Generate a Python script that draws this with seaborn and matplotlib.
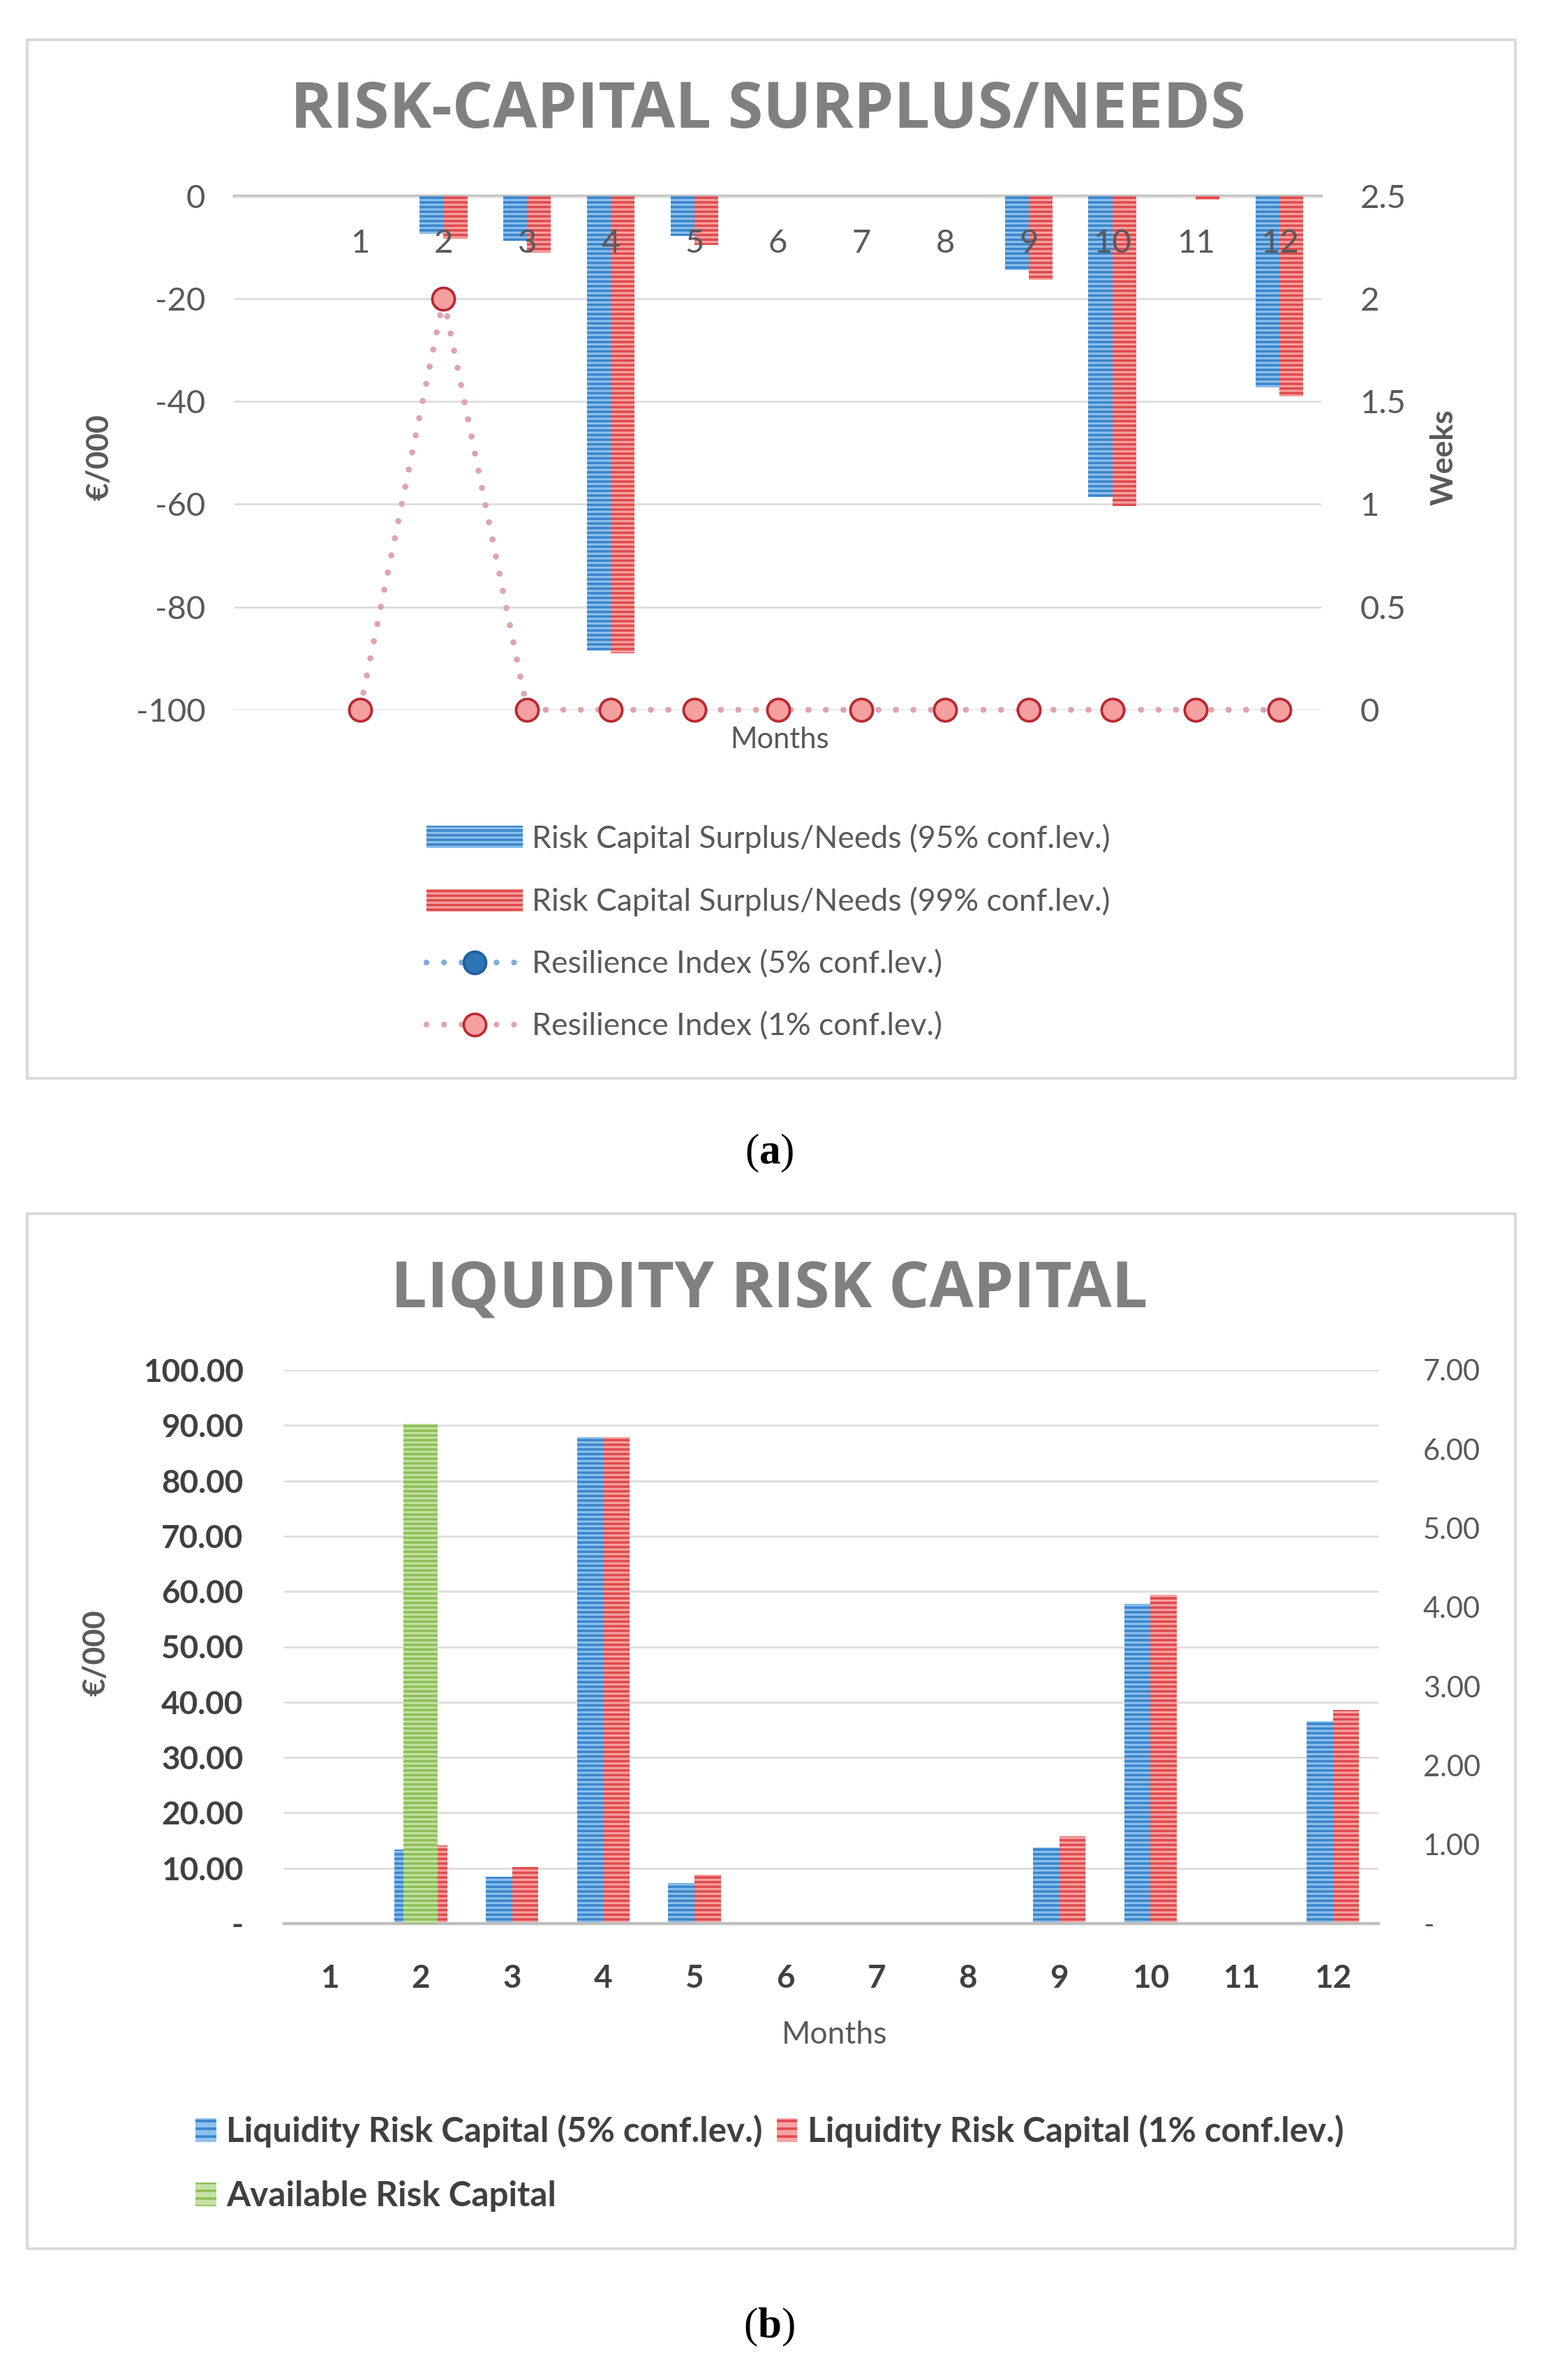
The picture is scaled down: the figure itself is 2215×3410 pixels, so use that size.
import numpy as np
import pandas as pd
import matplotlib
matplotlib.use('Agg')
import matplotlib.pyplot as plt
import seaborn as sns
from matplotlib.patches import Rectangle, Patch
from matplotlib.lines import Line2D

# ---------------- data ----------------
months = [str(i) for i in range(1, 13)]
surplus_95 = [0, -7.4, -8.7, -88.5, -7.8, 0, 0, 0, -14.4, -58.6, 0, -37.3]
surplus_99 = [0, -8.3, -11.0, -89.0, -9.6, 0, 0, 0, -16.3, -60.3, -0.7, -39.0]
resilience_5 = [0, 2, 0, 0, 0, 0, 0, 0, 0, 0, 0, 0]
resilience_1 = [0, 2, 0, 0, 0, 0, 0, 0, 0, 0, 0, 0]
left_ticks_a = [-100, -80, -60, -40, -20, 0]
right_ticks_a = [0, 0.5, 1, 1.5, 2, 2.5]
right_labels_a = ['0', '0.5', '1', '1.5', '2', '2.5']

lrc_5 = [0, 13.4, 8.5, 87.9, 7.3, 0, 0, 0, 13.8, 57.8, 0, 36.6]
lrc_1 = [0, 14.1, 10.2, 87.9, 8.8, 0, 0, 0, 15.8, 59.4, 0.3, 38.6]
avail_months = ['2']
avail_capital = [6.32]
left_ticks_b = list(range(0, 101, 10))
right_ticks_b = list(range(0, 8))

lab_a = ['Risk Capital Surplus/Needs (95% conf.lev.)',
         'Risk Capital Surplus/Needs (99% conf.lev.)',
         'Resilience Index (5% conf.lev.)',
         'Resilience Index (1% conf.lev.)']
lab_b = ['Liquidity Risk Capital (5% conf.lev.)',
         'Liquidity Risk Capital (1% conf.lev.)',
         'Available Risk Capital']

# ---------------- style ----------------
sns.set_theme(style='white')
plt.rcParams['font.family'] = ['Lato', 'DejaVu Sans']
plt.rcParams['hatch.linewidth'] = 1.3
plt.rcParams['mathtext.fontset'] = 'custom'
plt.rcParams['mathtext.rm'] = 'Liberation Serif'
plt.rcParams['mathtext.bf'] = 'Liberation Serif:bold'

TXT = '#595959'
BLUE_L, BLUE_D = '#8EC1EC', '#3A86CC'
RED_L, RED_D = '#F7A3A3', '#E04B4D'
GRN_L, GRN_D = '#C6E1A6', '#8DC058'
HATCH = '-----'

W, H, DPI = 2215, 3410, 200
fig = plt.figure(figsize=(W / DPI, H / DPI), dpi=DPI)
fig.patch.set_facecolor('white')


def fx(p):
    return p / W


def fy(p):
    return 1 - p / H


def box(x0, y0, x1, y1):
    fig.add_artist(Rectangle((fx(x0), fy(y1)), fx(x1 - x0), (y1 - y0) / H,
                             transform=fig.transFigure, fill=False,
                             edgecolor='#D9D9D9', lw=1.4))


def hatch_bars(ax, mapping):
    for p in ax.patches:
        fc = matplotlib.colors.to_hex(p.get_facecolor())
        for light, dark in mapping:
            if fc.lower() == matplotlib.colors.to_hex(light).lower():
                p.set_hatch(HATCH)
                p.set_edgecolor(dark)
                p.set_linewidth(0)


box(39, 57, 2171, 1545)
box(39, 1739, 2171, 3222)

# ================= chart (a) =================
ax1 = fig.add_axes([fx(336), fy(1017), fx(1893 - 336), (1017 - 280.6) / H])
df1 = pd.DataFrame({'Month': months * 2,
                    'Series': ['95'] * 12 + ['99'] * 12,
                    'Value': surplus_95 + surplus_99})
sns.barplot(data=df1, x='Month', y='Value', hue='Series', order=months,
            palette=[BLUE_L, RED_L], width=0.57, saturation=1, legend=False,
            linewidth=0, ax=ax1)
hatch_bars(ax1, [(BLUE_L, BLUE_D), (RED_L, RED_D)])
ax1.set_xlim(-1.5, 11.5)
ax1.set_ylim(-100, 0)
ax1.set_yticks(left_ticks_a)
ax1.set_yticklabels([str(v) for v in left_ticks_a])
ax1.set_axisbelow(True)
ax1.yaxis.grid(True, color='#D9D9D9', lw=0.9)
ax1.xaxis.grid(False)
ax1.xaxis.set_zorder(3)   # category labels drawn over the bars
for s in ['left', 'right', 'top']:
    ax1.spines[s].set_visible(False)
ax1.spines['bottom'].set_position(('data', 0))
ax1.spines['bottom'].set_color('#BFBFBF')
ax1.spines['bottom'].set_linewidth(1.6)
ax1.spines['bottom'].set_zorder(0.5)
ax1.tick_params(axis='x', length=0, pad=17, labelsize=17, labelcolor=TXT)
ax1.tick_params(axis='y', length=0, pad=15, labelsize=17, labelcolor=TXT)
ax1.set_xlabel('')
ax1.set_ylabel('')

ax1b = ax1.twinx()
pos = np.arange(len(months))
line_kw = dict(linestyle=(0, (0.01, 3.0)), dash_capstyle='round', lw=3.0,
               marker='o', markersize=11.5, markeredgewidth=1.3)
sns.lineplot(x=pos, y=resilience_5, ax=ax1b, color='#7FAEDB',
             markerfacecolor='#2E75B6', markeredgecolor='#1F5F9F', **line_kw)
sns.lineplot(x=pos, y=resilience_1, ax=ax1b, color='#E3A3AC',
             markerfacecolor='#F4A0A0', markeredgecolor='#C0262B', **line_kw)
for l in ax1b.lines:
    l.set_clip_on(False)
ax1b.set_ylim(0, 2.5)
ax1b.set_yticks(right_ticks_a)
ax1b.set_yticklabels(right_labels_a)
ax1b.grid(False)
for s in ax1b.spines.values():
    s.set_visible(False)
ax1b.tick_params(axis='y', length=0, pad=20, labelsize=17, labelcolor=TXT)
ax1b.set_ylabel('')
ax1b.set_xlim(-1.5, 11.5)

fig.text(fx(1100), fy(159), 'RISK-CAPITAL SURPLUS/NEEDS', ha='center',
         va='center', fontsize=33, fontweight='bold', color='#808080',
         family=['Open Sans', 'DejaVu Sans'])
fig.text(fx(142), fy(655), '€/000', rotation=90, ha='center', va='center',
         fontsize=16, fontweight='bold', color=TXT)
fig.text(fx(2069), fy(655), 'Weeks', rotation=90, ha='center', va='center',
         fontsize=16, fontweight='bold', color=TXT)
fig.text(fx(1117), fy(1060), 'Months', ha='center', va='center',
         fontsize=15, color=TXT)

h_a = [Patch(facecolor=BLUE_L, edgecolor=BLUE_D, hatch=HATCH, lw=0),
       Patch(facecolor=RED_L, edgecolor=RED_D, hatch=HATCH, lw=0),
       Line2D([], [], color='#7FAEDB', markerfacecolor='#2E75B6',
              markeredgecolor='#1F5F9F', **line_kw),
       Line2D([], [], color='#E3A3AC', markerfacecolor='#F4A0A0',
              markeredgecolor='#C0262B', **line_kw)]
fig.legend(h_a, lab_a, loc='upper left', bbox_to_anchor=(fx(611), fy(1180)),
           frameon=False, borderpad=0, borderaxespad=0, fontsize=16,
           labelspacing=1.08, handlelength=3.1, handleheight=0.75,
           handletextpad=0.3, labelcolor=TXT)

fig.text(fx(1102), fy(1652), r'($\mathbf{a}$)', ha='center', va='center',
         fontsize=22, family='Liberation Serif', color='black')

# ================= chart (b) =================
ax2 = fig.add_axes([fx(407), fy(2756), fx(1975 - 407), (2756 - 1963) / H])
df2 = pd.DataFrame({'Month': months * 2,
                    'Series': ['5'] * 12 + ['1'] * 12,
                    'Value': lrc_5 + lrc_1})
sns.barplot(data=df2, x='Month', y='Value', hue='Series', order=months,
            palette=[BLUE_L, RED_L], width=0.575, saturation=1, legend=False,
            linewidth=0, ax=ax2)
hatch_bars(ax2, [(BLUE_L, BLUE_D), (RED_L, RED_D)])
ax2.set_xlim(-0.5, 11.5)
ax2.set_ylim(0, 100)
ax2.set_yticks(left_ticks_b)
ax2.set_yticklabels(['-' if v == 0 else f'{v:.2f}' for v in left_ticks_b])
ax2.set_axisbelow(True)
ax2.yaxis.grid(True, color='#D9D9D9', lw=0.9)
ax2.xaxis.grid(False)
for s in ['left', 'right', 'top']:
    ax2.spines[s].set_visible(False)
ax2.spines['bottom'].set_color('#BFBFBF')
ax2.spines['bottom'].set_linewidth(1.6)
ax2.tick_params(axis='x', length=0, pad=21, labelsize=16.5, labelcolor='#404040')
ax2.tick_params(axis='y', length=0, pad=21, labelsize=16.5, labelcolor='#404040')
for t in ax2.get_xticklabels() + ax2.get_yticklabels():
    t.set_fontweight('bold')
ax2.set_xlabel('')
ax2.set_ylabel('')

ax2b = ax2.twinx()
sns.barplot(x=avail_months, y=avail_capital, order=months, color=GRN_L,
            width=0.375, saturation=1, linewidth=0, ax=ax2b)
hatch_bars(ax2b, [(GRN_L, GRN_D)])
ax2b.set_ylim(0, 7)
ax2b.set_yticks(right_ticks_b)
ax2b.set_yticklabels(['-' if v == 0 else f'{v:.2f}' for v in right_ticks_b])
ax2b.grid(False)
for s in ax2b.spines.values():
    s.set_visible(False)
ax2b.tick_params(axis='y', length=0, pad=23, labelsize=15, labelcolor=TXT)
ax2b.set_ylabel('')
ax2b.set_xlabel('')
ax2b.set_xlim(-0.5, 11.5)

fig.text(fx(1102), fy(1848), 'LIQUIDITY RISK CAPITAL', ha='center',
         va='center', fontsize=33, fontweight='bold', color='#808080',
         family=['Open Sans', 'DejaVu Sans'])
fig.text(fx(137), fy(2368), '€/000', rotation=90, ha='center', va='center',
         fontsize=16, fontweight='bold', color=TXT)
fig.text(fx(1196), fy(2915), 'Months', ha='center', va='center',
         fontsize=16, color=TXT)

h_b = [Patch(facecolor=BLUE_L, edgecolor=BLUE_D, hatch='---', lw=0),
       Patch(facecolor=GRN_L, edgecolor=GRN_D, hatch='---', lw=0),
       Patch(facecolor=RED_L, edgecolor=RED_D, hatch='---', lw=0)]
leg_b = fig.legend(h_b, [lab_b[0], lab_b[2], lab_b[1]], ncol=2, loc='upper left',
                   bbox_to_anchor=(fx(280), fy(3030)), frameon=False,
                   borderpad=0, borderaxespad=0, fontsize=17.8,
                   labelspacing=0.95, handlelength=0.6, handleheight=0.68,
                   handletextpad=0.3, columnspacing=0.4, labelcolor='#404040')
for t in leg_b.get_texts():
    t.set_fontweight('bold')

fig.text(fx(1102), fy(3334), r'($\mathbf{b}$)', ha='center', va='center',
         fontsize=22, family='Liberation Serif', color='black')

fig.savefig('out.png', dpi=DPI, facecolor='white')
